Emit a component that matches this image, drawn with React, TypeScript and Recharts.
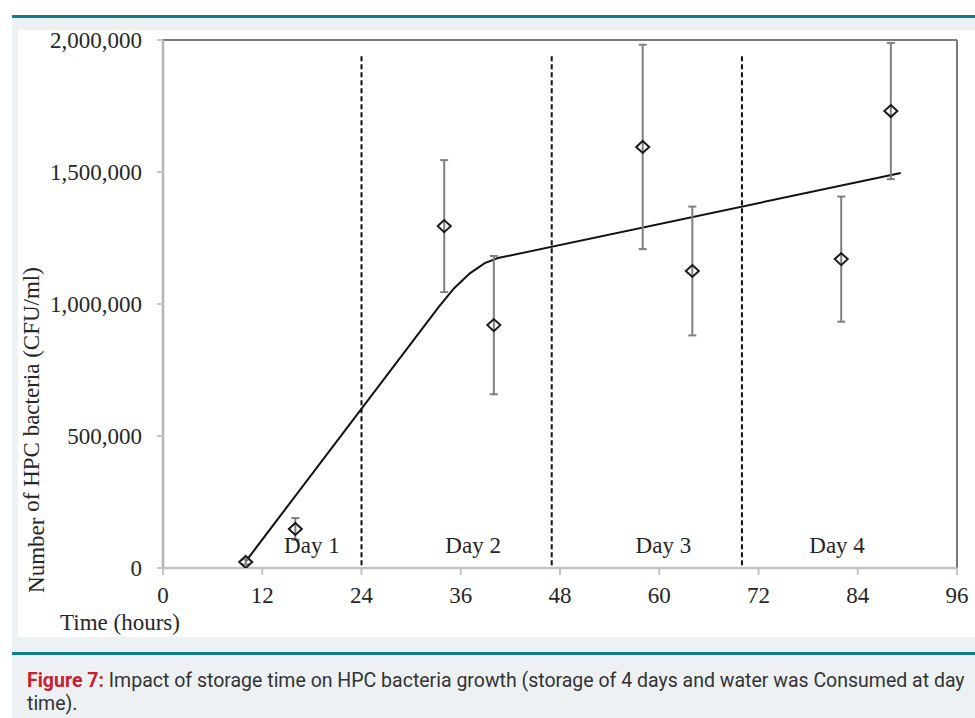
import React from 'react';
import {
  ComposedChart,
  XAxis,
  YAxis,
  Scatter,
  Line,
  ErrorBar,
  ReferenceLine,
} from 'recharts';

// Sampling times (hours) with mean HPC counts (CFU/ml) and their error half-ranges
const hours = [10, 16, 34, 40, 58, 64, 82, 88];
const meanCounts = [23000, 148000, 1295000, 920000, 1595000, 1125000, 1170000, 1731000];
const countErrors = [10000, 41000, 250000, 262000, 387000, 244000, 237000, 258000];

// Fitted growth curve
const trendHours = [10, 33.25, 35.2, 37.1, 38.9, 40.5, 89.2];
const trendCounts = [25000, 985000, 1060000, 1116000, 1155000, 1174000, 1496000];

// Day separators and day captions
const dayBoundaries = [24, 47, 70];
const dayLabels = ['Day 1', 'Day 2', 'Day 3', 'Day 4'];
const dayLabelHours = [18, 37.5, 60.5, 81.5];

const xTicks = [0, 12, 24, 36, 48, 60, 72, 84, 96];
const yTicks = [0, 500000, 1000000, 1500000, 2000000];

const points = hours.map((x, i) => ({ x, y: meanCounts[i], err: countErrors[i] }));
const trend = trendHours.map((x, i) => ({ x, y: trendCounts[i] }));
const DAY_LABEL_LEVEL = 87000;
const dayTags = dayLabels.map((name, i) => ({ x: dayLabelHours[i], y: DAY_LABEL_LEVEL, name }));

const SERIF = '"Liberation Serif", "Times New Roman", serif';
const TEAL = '#0b7f8e';
const PANEL = '#edf1f4';

const Diamond = (props: any) => {
  const { cx, cy } = props;
  if (cx == null || cy == null) return null;
  const w = 6.5;
  const h = 6;
  return (
    <polygon
      points={`${cx},${cy - h} ${cx + w},${cy} ${cx},${cy + h} ${cx - w},${cy}`}
      fill="none"
      stroke="#1a1a1a"
      strokeWidth={2}
    />
  );
};

const DayTag = (props: any) => {
  const { cx, cy, payload } = props;
  if (cx == null || cy == null) return null;
  return (
    <text x={cx} y={cy + 8} textAnchor="middle" fontFamily={SERIF} fontSize={23} fill="#262626">
      {payload.name}
    </text>
  );
};

const YTitle = (props: any) => {
  const vb = props.viewBox || { x: 103, y: 40, height: 528 };
  const cx = vb.x - 59;
  const cy = vb.y + vb.height / 2 + 126;
  return (
    <text
      x={0}
      y={0}
      transform={`translate(${cx},${cy}) rotate(-90)`}
      textAnchor="middle"
      fontFamily={SERIF}
      fontSize={23}
      fill="#262626"
    >
      Number
      <tspan dy={-5}> of HPC bacteria (CFU/ml)</tspan>
    </text>
  );
};

const XTitle = (props: any) => {
  const vb = props.viewBox || { x: 163, y: 568 };
  return (
    <text x={vb.x - 103} y={vb.y + 62} fontFamily={SERIF} fontSize={23} fill="#262626">
      Time (hours)
    </text>
  );
};

const formatCount = (v: number) => v.toLocaleString('en-US');

export default function App() {
  return (
    <div
      style={{
        position: 'absolute',
        left: 0,
        top: 0,
        width: 975,
        height: 718,
        background: '#ffffff',
        overflow: 'hidden',
      }}
    >
      <div style={{ position: 'absolute', left: 12, top: 15, width: 963, height: 703, background: PANEL }} />
      <div style={{ position: 'absolute', left: 12, top: 15, width: 963, height: 2.5, background: TEAL }} />
      <div style={{ position: 'absolute', left: 18, top: 30, width: 957, height: 607, background: '#ffffff' }} />
      <div style={{ position: 'absolute', left: 12, top: 652, width: 963, height: 2.5, background: TEAL }} />
      <div
        style={{
          position: 'absolute',
          left: 27,
          top: 669,
          whiteSpace: 'nowrap',
          fontFamily: 'Roboto, "Noto Sans", sans-serif',
          fontSize: 19.5,
          lineHeight: '23px',
          color: '#333333',
        }}
      >
        <span style={{ color: '#c8202f', fontWeight: 700 }}>Figure 7:</span> Impact of storage time on HPC bacteria
        growth (storage of 4 days and water was Consumed at day
        <br />
        time).
      </div>
      <div style={{ position: 'absolute', left: 0, top: 0 }}>
        <ComposedChart
          width={975}
          height={718}
          margin={{ top: 40, right: 18, bottom: 120, left: 103 }}
        >
          <XAxis
            type="number"
            dataKey="x"
            domain={[0, 96]}
            ticks={xTicks}
            allowDataOverflow
            height={30}
            axisLine={{ stroke: '#c4c4c4', strokeWidth: 2.5 }}
            tickLine={{ stroke: '#c4c4c4', strokeWidth: 2 }}
            tickSize={7}
            tickMargin={12}
            tick={{ fill: '#262626', fontSize: 23, fontFamily: SERIF }}
            label={{ content: XTitle }}
          />
          <YAxis
            type="number"
            domain={[0, 2000000]}
            ticks={yTicks}
            allowDataOverflow
            width={60}
            axisLine={{ stroke: '#b4b4b4', strokeWidth: 2.5 }}
            tickLine={{ stroke: '#c4c4c4', strokeWidth: 2 }}
            tickSize={6}
            tickMargin={15}
            tickFormatter={formatCount}
            tick={{ fill: '#262626', fontSize: 23, fontFamily: SERIF }}
            label={{ content: YTitle }}
          />
          <ReferenceLine y={2000000} stroke="#7a7a7a" strokeWidth={2} />
          <ReferenceLine x={96} stroke="#7a7a7a" strokeWidth={2} />
          {dayBoundaries.map((h) => (
            <ReferenceLine
              key={h}
              segment={[
                { x: h, y: 10000 },
                { x: h, y: 1940000 },
              ]}
              stroke="#111111"
              strokeWidth={2}
              strokeDasharray="5 3"
            />
          ))}
          <Line
            data={trend}
            dataKey="y"
            type="linear"
            stroke="#111111"
            strokeWidth={2}
            dot={false}
            activeDot={false}
            isAnimationActive={false}
          />
          <Scatter data={points} dataKey="y" shape={<Diamond />} isAnimationActive={false}>
            <ErrorBar dataKey="err" direction="y" stroke="#7f7f7f" strokeWidth={2} width={4} />
          </Scatter>
          <Scatter data={dayTags} dataKey="y" shape={<DayTag />} isAnimationActive={false} />
        </ComposedChart>
      </div>
    </div>
  );
}
